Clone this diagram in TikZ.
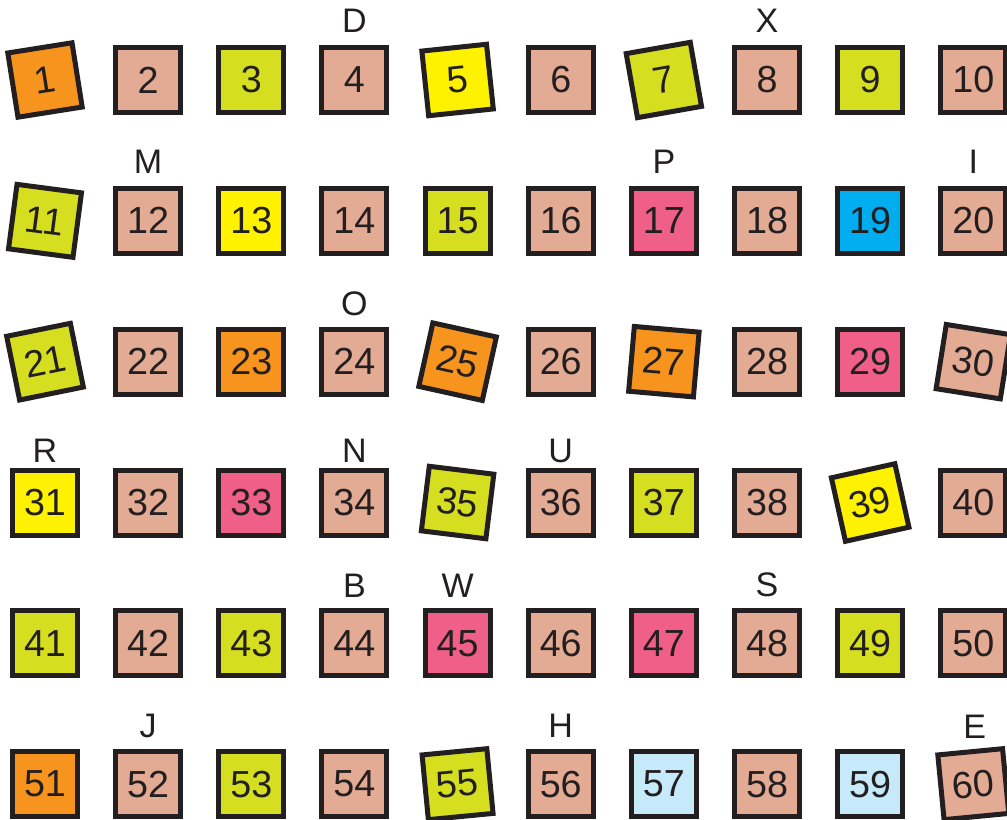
\documentclass[tikz,border=0pt]{standalone}
\usepackage{fontspec}
\setmainfont{Liberation Sans}
\usetikzlibrary{positioning}
\usepackage{xcolor}
\definecolor{ink}{HTML}{231F20}
\definecolor{peach}{HTML}{E3AA94}
\definecolor{limegreen}{HTML}{D5DF20}
\definecolor{lemon}{HTML}{FFF200}
\definecolor{amber}{HTML}{F7941D}
\definecolor{rose}{HTML}{EF5F88}
\definecolor{sky}{HTML}{00AEEF}
\definecolor{ice}{HTML}{C7EAFB}
\newcommand{\numfont}{\fontsize{26.8}{30}\selectfont}
\newcommand{\tagfont}{\fontsize{24.2}{28}\selectfont}

\begin{document}
\begin{tikzpicture}[
    x=0.025cm, y=0.025cm,
    box/.style = {rectangle, draw=ink, line width=0.125cm, minimum size=1.625cm, inner sep=0pt, text=ink, font=\numfont},
    peachbox/.style = {box, fill=peach},
    limebox/.style = {box, fill=limegreen},
    lemonbox/.style = {box, fill=lemon},
    amberbox/.style = {box, fill=amber},
    rosebox/.style = {box, fill=rose},
    skybox/.style = {box, fill=sky},
    icebox/.style = {box, fill=ice},
    tag/.style = {inner sep=0pt, outer sep=0pt, text=ink, font=\tagfont}
]
\useasboundingbox (0,0) rectangle (1007,-820);

\matrix [matrix anchor=n1.center, column sep={2.578cm,between origins}, row sep={3.52cm,between origins}, ampersand replacement=\&] at (45,-80) {
% Row 1
\node[amberbox, rotate=9] (n1) {1}; \& \node[peachbox] (n2) {2}; \& \node[limebox] (n3) {3}; \& \node[peachbox] (n4) {4}; \&
\node[lemonbox, rotate=6] (n5) {5}; \& \node[peachbox] (n6) {6}; \& \node[limebox, rotate=10] (n7) {7}; \& \node[peachbox] (n8) {8}; \&
\node[limebox] (n9) {9}; \& \node[peachbox] (n10) {10}; \\
% Row 2
\node[limebox, rotate=-7.5] (n11) {11}; \& \node[peachbox] (n12) {12}; \& \node[lemonbox] (n13) {13}; \& \node[peachbox] (n14) {14}; \&
\node[limebox] (n15) {15}; \& \node[peachbox] (n16) {16}; \& \node[rosebox] (n17) {17}; \& \node[peachbox] (n18) {18}; \&
\node[skybox] (n19) {19}; \& \node[peachbox] (n20) {20}; \\
% Row 3
\node[limebox, rotate=11.5] (n21) {21}; \& \node[peachbox] (n22) {22}; \& \node[amberbox] (n23) {23}; \& \node[peachbox] (n24) {24}; \&
\node[amberbox, rotate=-12.5] (n25) {25}; \& \node[peachbox] (n26) {26}; \& \node[amberbox, rotate=-5] (n27) {27}; \& \node[peachbox] (n28) {28}; \&
\node[rosebox] (n29) {29}; \& \node[peachbox, rotate=-9] (n30) {30}; \\
% Row 4
\node[lemonbox] (n31) {31}; \& \node[peachbox] (n32) {32}; \& \node[rosebox] (n33) {33}; \& \node[peachbox] (n34) {34}; \&
\node[limebox, rotate=-7] (n35) {35}; \& \node[peachbox] (n36) {36}; \& \node[limebox] (n37) {37}; \& \node[peachbox] (n38) {38}; \&
\node[lemonbox, rotate=12.5] (n39) {39}; \& \node[peachbox] (n40) {40}; \\
% Row 5
\node[limebox] (n41) {41}; \& \node[peachbox] (n42) {42}; \& \node[limebox] (n43) {43}; \& \node[peachbox] (n44) {44}; \&
\node[rosebox] (n45) {45}; \& \node[peachbox] (n46) {46}; \& \node[rosebox] (n47) {47}; \& \node[peachbox] (n48) {48}; \&
\node[limebox] (n49) {49}; \& \node[peachbox] (n50) {50}; \\
% Row 6
\node[amberbox] (n51) {51}; \& \node[peachbox] (n52) {52}; \& \node[limebox] (n53) {53}; \& \node[peachbox] (n54) {54}; \&
\node[limebox, rotate=5.5] (n55) {55}; \& \node[peachbox] (n56) {56}; \& \node[icebox] (n57) {57}; \& \node[peachbox] (n58) {58}; \&
\node[icebox] (n59) {59}; \& \node[peachbox, rotate=5.5] (n60) {60}; \\
};

% Letters
\node[tag, above=0.31cm of n4] (D) {D};
\node[tag, above=0.31cm of n8] (X) {X};
\node[tag, above=0.32cm of n12] (M) {M};
\node[tag, above=0.32cm of n17] (P) {P};
\node[tag, above=0.32cm of n20] (I) {I};
\node[tag, above=0.28cm of n24] (O) {O};
\node[tag, above=0.12cm of n31] (R) {R};
\node[tag, above=0.12cm of n34] (N) {N};
\node[tag, above=0.12cm of n36] (U) {U};
\node[tag, above=0.28cm of n44] (B) {B};
\node[tag, above=0.28cm of n45] (W) {W};
\node[tag, above=0.28cm of n48] (S) {S};
\node[tag, above=0.28cm of n52] (J) {J};
\node[tag, above=0.28cm of n56] (H) {H};
\node[tag, above=0.28cm of n60, xshift=0.12cm] (E) {E};

\end{tikzpicture}
\end{document}
